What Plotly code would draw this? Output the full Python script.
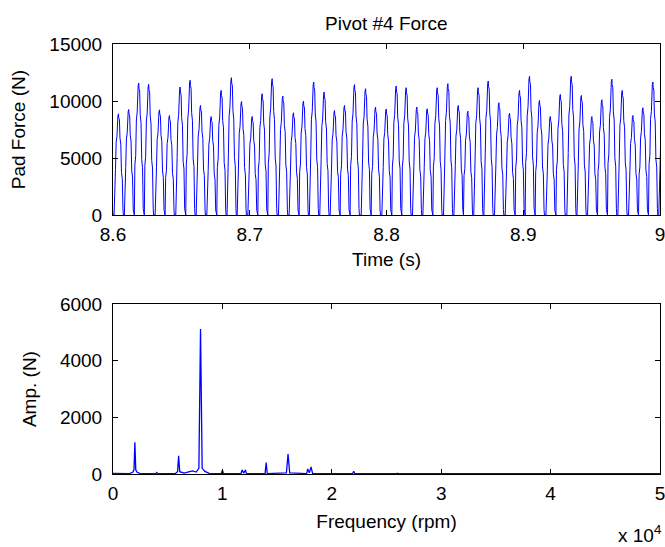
import plotly.graph_objects as go

# ---------------- Top panel data ----------------
peak_times = [8.5966, 8.6042, 8.6117, 8.6190, 8.6263, 8.6342, 8.6415, 8.6493, 8.6566, 8.6642,
              8.6720, 8.6793, 8.6868, 8.6942, 8.7020, 8.7093, 8.7166, 8.7244, 8.7322,
              8.7395, 8.7470, 8.7546, 8.7622, 8.7695, 8.7768, 8.7849, 8.7922, 8.8000,
              8.8073, 8.8146, 8.8224, 8.8300, 8.8373, 8.8451, 8.8527, 8.8597, 8.8672,
              8.8746, 8.8824, 8.8902, 8.8975, 8.9048, 8.9121, 8.9200, 8.9273, 8.9353,
              8.9427, 8.9504, 8.9577, 8.9650, 8.9726, 8.9804, 8.9877, 8.9950, 9.0025]
peak_forces = [9500, 8880, 9260, 11580, 11460, 9230, 8730, 11230, 11820, 9610,
               8640, 10930, 12050, 9960, 8640, 10640, 11960, 10430, 8970,
               9990, 11670, 10790, 9170, 9610, 11440, 11080, 9470, 9300,
               11320, 11170, 9470, 9320, 11170, 11520, 9610, 9110, 11170,
               11760, 9850, 8930, 10930, 12170, 10050, 8640, 10580, 12170,
               10490, 8640, 10110, 11910, 10930, 8730, 9410, 11670, 10000]
# single-pulse outline: time offsets (s) and fraction of pulse peak
pulse_offsets = [-0.0034, -0.0030, -0.0024, -0.0019, -0.0013, -0.0006, -0.0002, 0.0,
                 0.0005, 0.0009, 0.0015, 0.0020, 0.0026, 0.0031, 0.0034]
pulse_levels = [0.0, 0.38, 0.45, 0.72, 0.78, 0.98, 1.0, 0.96,
                0.94, 0.76, 0.70, 0.42, 0.36, 0.05, 0.0]

# ---------------- Bottom panel data (spectrum) ----------------
freq_rpm = [0, 1500, 1800, 1920, 2000, 2080, 2200, 2500, 3900, 4000, 4100, 5700, 5900, 6000,
            6100, 6500, 7000, 7300, 7600, 7850, 8000, 8150, 8400, 8800, 9900, 10000, 10100,
            11700, 11800, 11950, 12100, 12200, 13900, 14000, 14100, 15850, 16000, 16150,
            17700, 17800, 17950, 18100, 18250, 19900, 21900, 22000, 22100, 25900, 26000,
            26100, 31900, 32000, 32100, 50000]
amp_n = [20, 15, 60, 150, 1120, 150, 60, 15, 15, 55, 15, 20, 80, 640,
         80, 30, 80, 110, 70, 200, 5120, 200, 90, 20, 15, 140, 15,
         15, 140, 30, 140, 15, 15, 400, 15, 40, 700, 40,
         15, 180, 40, 250, 15, 10, 10, 100, 10, 10, 30,
         10, 10, 30, 10, 10]

# build the time-domain trace from the pulse peaks
t_vals, f_vals = [], []
for tp, fp in zip(peak_times, peak_forces):
    for o, l in zip(pulse_offsets, pulse_levels):
        t_vals.append(tp + o)
        f_vals.append(fp * l)

BLUE = "#0000ff"
FONT = "Arial, Liberation Sans, Helvetica, sans-serif"
FS = 19

fig = go.Figure()
fig.add_trace(go.Scatter(x=t_vals, y=f_vals, mode="lines",
                         line=dict(color=BLUE, width=1), xaxis="x", yaxis="y",
                         showlegend=False, hoverinfo="skip"))
fig.add_trace(go.Scatter(x=freq_rpm, y=amp_n, mode="lines",
                         line=dict(color=BLUE, width=1.3), xaxis="x2", yaxis="y2",
                         showlegend=False, hoverinfo="skip"))

axis_common = dict(showline=True, linecolor="black", linewidth=1, mirror="allticks",
                   ticks="inside", ticklen=5, tickcolor="black", showgrid=False,
                   zeroline=False, automargin=False, ticklabeloverflow="allow",
                   tickfont=dict(size=FS, color="black", family=FONT))

fig.update_layout(
    width=665, height=547,
    margin=dict(l=113, r=5, t=44, b=73),
    paper_bgcolor="white", plot_bgcolor="white",
    font=dict(family=FONT, size=FS, color="black"),
    xaxis=dict(domain=[0, 1], anchor="y", range=[8.6, 9.0],
               tickvals=[8.6, 8.7, 8.8, 8.9, 9.0], ticktext=["8.6", "8.7", "8.8", "8.9", "9"],
               ticklabelstandoff=2,
               title=dict(text="Time (s)", standoff=8, font=dict(size=FS)), **axis_common),
    yaxis=dict(domain=[0.602, 1], anchor="x", range=[0, 15000],
               tickvals=[0, 5000, 10000, 15000], ticktext=["0", "5000", "10000", "15000"],
               ticklabelstandoff=6,
               title=dict(text="Pad Force (N)", standoff=18, font=dict(size=FS)), **axis_common),
    xaxis2=dict(domain=[0, 1], anchor="y2", range=[0, 50000],
                tickvals=[0, 10000, 20000, 30000, 40000, 50000],
                ticktext=["0", "1", "2", "3", "4", "5"],
                ticklabelstandoff=2,
                title=dict(text="Frequency (rpm)", standoff=11, font=dict(size=FS)), **axis_common),
    yaxis2=dict(domain=[0, 0.395], anchor="x2", range=[0, 6000],
                tickvals=[0, 2000, 4000, 6000], ticktext=["0", "2000", "4000", "6000"],
                ticklabelstandoff=6,
                title=dict(text="Amp. (N)", standoff=18, font=dict(size=FS)), **axis_common),
    annotations=[
        dict(text="Pivot #4 Force", x=0.5, xref="paper", y=1, yref="paper",
             yanchor="bottom", yshift=8, showarrow=False, font=dict(size=FS)),
        dict(text="x 10<sup>4</sup>", x=1.0, xref="paper", y=0, yref="paper",
             xanchor="right", yanchor="top", yshift=-46, xshift=3, showarrow=False,
             font=dict(size=FS)),
    ],
)

fig.write_html("out.html")
